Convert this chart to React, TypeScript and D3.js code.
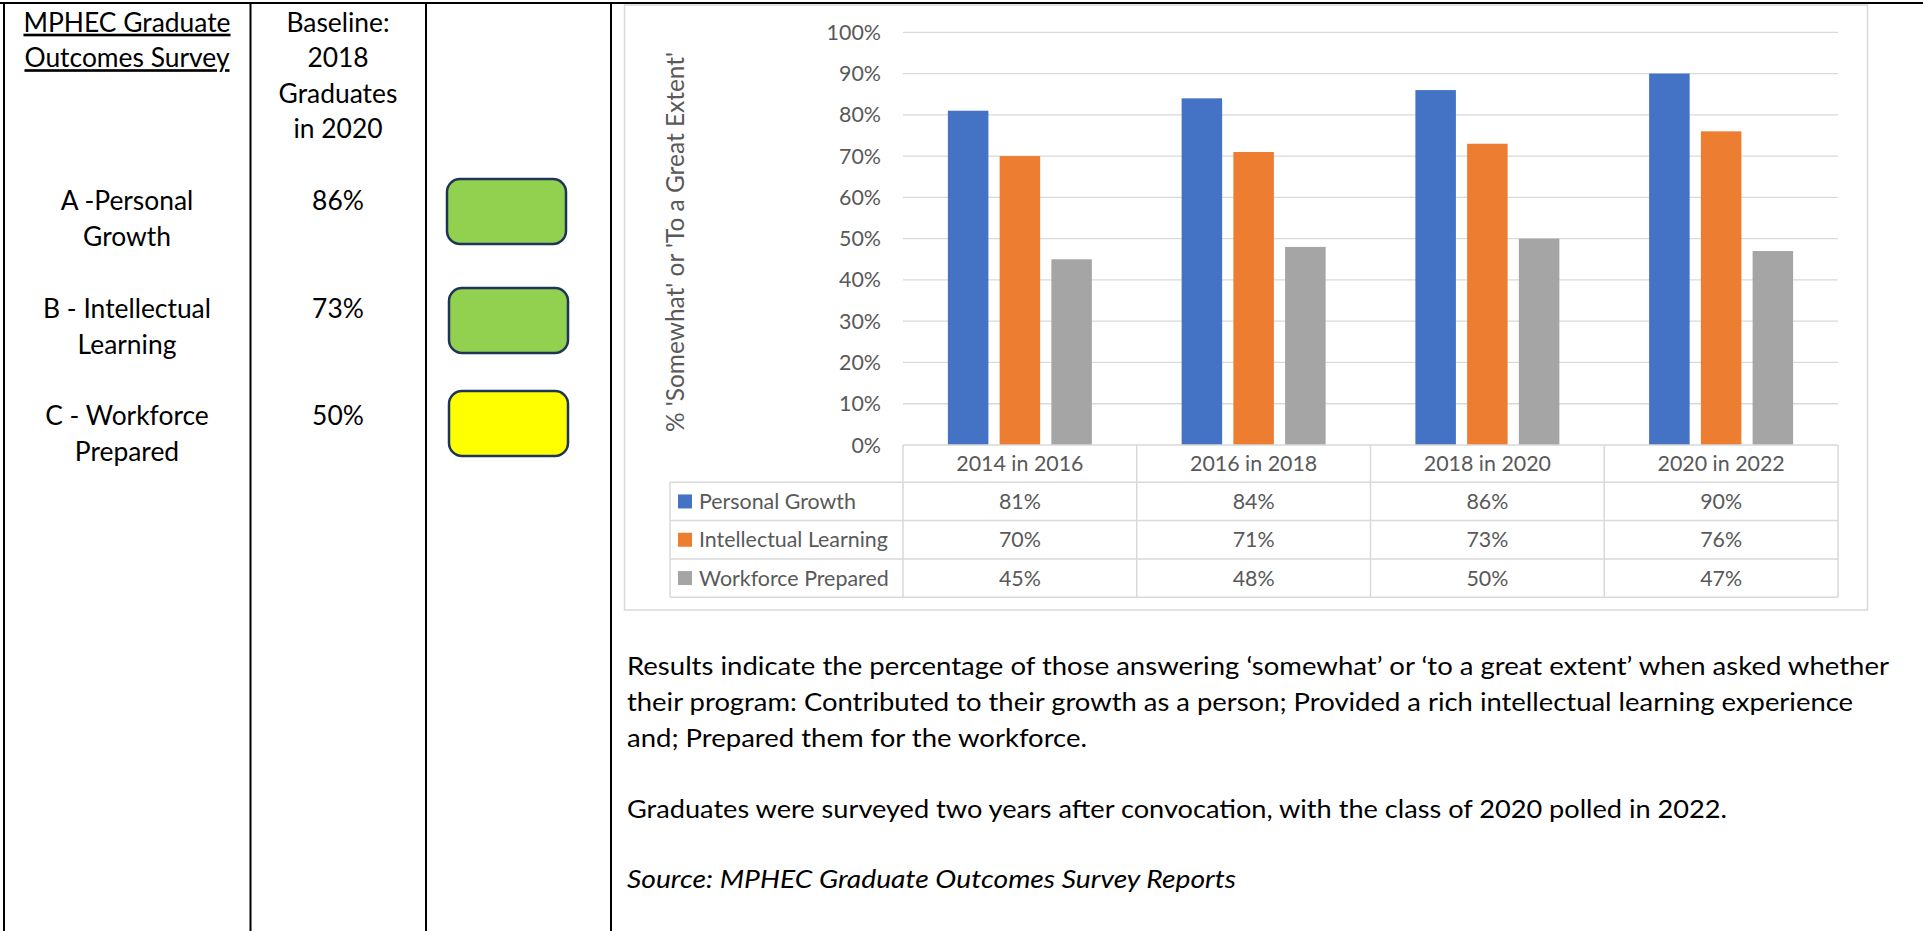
import React from 'react';
import * as d3 from 'd3';

// ---------- data ----------
const categories = ['2014 in 2016', '2016 in 2018', '2018 in 2020', '2020 in 2022'];
const seriesNames = ['Personal Growth', 'Intellectual Learning', 'Workforce Prepared'];
const personalGrowth = [81, 84, 86, 90];
const intellectualLearning = [70, 71, 73, 76];
const workforcePrepared = [45, 48, 50, 47];
const seriesColors = ['#4472C4', '#ED7D31', '#A5A5A5'];
const yTicks = [0, 10, 20, 30, 40, 50, 60, 70, 80, 90, 100];
const yAxisTitle = "% 'Somewhat' or 'To a Great Extent'";

const surveyTitle = ['MPHEC Graduate', 'Outcomes Survey'];
const baselineHeader = ['Baseline:', '2018', 'Graduates', 'in 2020'];
const indicatorLabels = [['A -Personal', 'Growth'], ['B - Intellectual', 'Learning'], ['C - Workforce', 'Prepared']];
const baselineValues = [86, 73, 50];
const statusColors = ['#92D050', '#92D050', '#FFFF00'];

const noteLines = [
  'Results indicate the percentage of those answering \u2018somewhat\u2019 or \u2018to a great extent\u2019 when asked whether',
  'their program: Contributed to their growth as a person; Provided a rich intellectual learning experience',
  'and; Prepared them for the workforce.',
];
const noteLine2 = 'Graduates were surveyed two years after convocation, with the class of 2020 polled in 2022.';
const sourceLine = 'Source: MPHEC Graduate Outcomes Survey Reports';

const seriesValues = [personalGrowth, intellectualLearning, workforcePrepared];

// ---------- layout ----------
const W = 1923;
const H = 931;
const FONT = 'Lato, "Open Sans", sans-serif';
const GRID = '#D9D9D9';
const TXT = '#595959';

export default function App() {
  const x = d3.scaleBand<string>().domain(categories).range([903, 1838]).padding(0);
  const y = d3.scaleLinear().domain([0, 100]).range([445, 32.3]);
  const bw = x.bandwidth();
  const inner = d3
    .scaleBand<string>()
    .domain(seriesNames)
    .range([bw * 0.192, bw * 0.808])
    .paddingInner(0.217)
    .paddingOuter(0);

  const tableTop = y(0);
  const headerBottom = 482.3;
  const rowH = 38.3;
  const rowLines = [0, 1, 2, 3].map((i) => headerBottom + i * rowH);
  const colEdges = categories.map((c) => x(c) as number).concat([x.range()[1]]);

  const col1 = 127;
  const col2 = 338;
  const headLH = 35.5;
  const indicatorBase = [210, 318, 425];
  const swatchTops = [179, 288, 391];

  return (
    <svg
      width={W}
      height={H}
      viewBox={`0 0 ${W} ${H}`}
      style={{ position: 'fixed', left: 0, top: 0, background: '#fff' }}
      fontFamily={FONT}
    >
      <rect x={0} y={0} width={W} height={H} fill="#fff" />

      {/* chart frame */}
      <rect x={624.5} y={5} width={1243} height={605} fill="#fff" stroke={GRID} strokeWidth={1.5} />

      {/* table borders */}
      <line x1={0} x2={W} y1={3} y2={3} stroke="#000" strokeWidth={2} />
      {[4, 250.5, 426, 611].map((vx) => (
        <line key={vx} x1={vx} x2={vx} y1={2} y2={H} stroke="#000" strokeWidth={2} />
      ))}

      {/* left column header */}
      {surveyTitle.map((t, i) => (
        <text
          key={t}
          x={col1}
          y={31.7 + i * headLH}
          textAnchor="middle"
          fontSize={26.4}
          fill="#000"
          textDecoration="underline"
        >
          {t}
        </text>
      ))}
      {baselineHeader.map((t, i) => (
        <text key={t} x={col2} y={31.7 + i * headLH} textAnchor="middle" fontSize={26.4} fill="#000">
          {t}
        </text>
      ))}

      {indicatorLabels.map((lines, k) => (
        <g key={k}>
          {lines.map((t, i) => (
            <text
              key={t}
              x={col1}
              y={indicatorBase[k] + i * headLH}
              textAnchor="middle"
              fontSize={26.4}
              fill="#000"
            >
              {t}
            </text>
          ))}
          <text x={col2} y={indicatorBase[k]} textAnchor="middle" fontSize={26.4} fill="#000">
            {baselineValues[k]}%
          </text>
          <rect
            x={k === 0 ? 447 : 449}
            y={swatchTops[k]}
            width={119}
            height={65}
            rx={13}
            ry={13}
            fill={statusColors[k]}
            stroke="#1F3557"
            strokeWidth={2.5}
          />
        </g>
      ))}

      {/* gridlines */}
      {yTicks
        .filter((t) => t > 0)
        .map((t) => (
          <line key={t} x1={903} x2={1838} y1={y(t)} y2={y(t)} stroke={GRID} strokeWidth={1.3} />
        ))}

      {/* y tick labels */}
      {yTicks.map((t) => (
        <text key={t} x={881} y={y(t) + 7.5} textAnchor="end" fontSize={21.4} fill={TXT}>
          {t}%
        </text>
      ))}

      {/* y axis title */}
      <text
        transform={`translate(684,242) rotate(-90)`}
        textAnchor="middle"
        fontSize={24.5}
        fill={TXT}
        textLength={380}
        lengthAdjust="spacingAndGlyphs"
      >
        {yAxisTitle}
      </text>

      {/* bars */}
      {categories.map((c, ci) => (
        <g key={c} transform={`translate(${x(c)},0)`}>
          {seriesNames.map((s, si) => (
            <rect
              key={s}
              x={inner(s)}
              y={y(seriesValues[si][ci])}
              width={inner.bandwidth()}
              height={y(0) - y(seriesValues[si][ci])}
              fill={seriesColors[si]}
            />
          ))}
        </g>
      ))}

      {/* data table */}
      <line x1={903} x2={1838} y1={tableTop} y2={tableTop} stroke={GRID} strokeWidth={1.5} />
      {rowLines.map((ry) => (
        <line key={ry} x1={670} x2={1838} y1={ry} y2={ry} stroke={GRID} strokeWidth={1.5} />
      ))}
      {colEdges.map((cx) => (
        <line
          key={cx}
          x1={cx}
          x2={cx}
          y1={tableTop}
          y2={rowLines[3]}
          stroke={GRID}
          strokeWidth={1.5}
        />
      ))}
      <line x1={670} x2={670} y1={rowLines[0]} y2={rowLines[3]} stroke={GRID} strokeWidth={1.5} />

      {categories.map((c) => (
        <text
          key={c}
          x={(x(c) as number) + bw / 2}
          y={(tableTop + headerBottom) / 2 + 7.5}
          textAnchor="middle"
          fontSize={21.4}
          fill={TXT}
        >
          {c}
        </text>
      ))}

      {seriesNames.map((s, si) => {
        const cy = rowLines[si] + rowH / 2;
        return (
          <g key={s}>
            <rect x={678} y={cy - 7} width={14} height={14} fill={seriesColors[si]} />
            <text x={699} y={cy + 7.5} fontSize={21.4} fill={TXT}>
              {s}
            </text>
            {categories.map((c, ci) => (
              <text
                key={c}
                x={(x(c) as number) + bw / 2}
                y={cy + 7.5}
                textAnchor="middle"
                fontSize={21.4}
                fill={TXT}
              >
                {seriesValues[si][ci]}%
              </text>
            ))}
          </g>
        );
      })}

      {/* notes */}
      {noteLines.map((t, i) => (
        <text
          key={i}
          x={627}
          y={675 + i * 35.8}
          fontSize={24.5}
          fill="#000"
          textLength={[1262, 1226, 460][i]}
          lengthAdjust="spacingAndGlyphs"
        >
          {t}
        </text>
      ))}
      <text x={627} y={818.3} fontSize={24.5} fill="#000" textLength={1100} lengthAdjust="spacingAndGlyphs">
        {noteLine2}
      </text>
      <text
        x={627}
        y={888.3}
        fontSize={24.5}
        fontStyle="italic"
        fill="#000"
        textLength={609}
        lengthAdjust="spacingAndGlyphs"
      >
        {sourceLine}
      </text>
    </svg>
  );
}
